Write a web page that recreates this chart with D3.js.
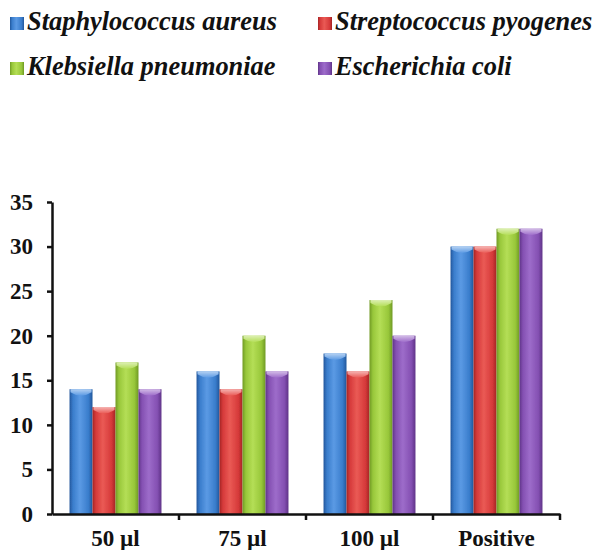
<!DOCTYPE html>
<html>
<head>
<meta charset="utf-8">
<script src="https://cdn.jsdelivr.net/npm/d3@7"></script>
<style>
  html, body { margin: 0; padding: 0; background: #fff; }
  svg { display: block; }
  svg text { font-family: "Liberation Serif", "Times New Roman", Times, "DejaVu Serif", serif; }
</style>
</head>
<body>
<svg id="chart" width="594" height="550"></svg>
<script>
// Zone of inhibition by extract volume, per organism
const categories = ["50 µl", "75 µl", "100 µl", "Positive"];
const seriesNames = ["Staphylococcus aureus", "Streptococcus pyogenes", "Klebsiella pneumoniae", "Escherichia coli"];
const staphValues = [14, 16, 18, 30];
const streptoValues = [12, 14, 16, 30];
const klebValues = [17, 20, 24, 32];
const ecoliValues = [14, 16, 20, 32];
const yTicks = [0, 5, 10, 15, 20, 25, 30, 35];

const seriesValues = [staphValues, streptoValues, klebValues, ecoliValues];
const palette = [
  { base: "#3a7dcc", light: "#5b9ae4", dark: "#22579c" },
  { base: "#d63a3a", light: "#ea5a55", dark: "#a52424" },
  { base: "#98c73a", light: "#b4de56", dark: "#6f9a24" },
  { base: "#8450b2", light: "#9d6cca", dark: "#5f3388" }
];
const FONT = "'Liberation Serif', 'Times New Roman', Times, 'DejaVu Serif', serif";

const svg = d3.select("#chart");
const margin = { left: 52, right: 34, top: 202, bottom: 36 };
const W = 594, H = 550;
const plotW = W - margin.left - margin.right;
const plotH = H - margin.top - margin.bottom;

const defs = svg.append("defs");
palette.forEach((c, i) => {
  const g = defs.append("linearGradient").attr("id", "bar" + i)
    .attr("x1", "0%").attr("x2", "100%").attr("y1", "0%").attr("y2", "0%");
  g.append("stop").attr("offset", "0%").attr("stop-color", c.dark);
  g.append("stop").attr("offset", "15%").attr("stop-color", c.base);
  g.append("stop").attr("offset", "45%").attr("stop-color", c.light);
  g.append("stop").attr("offset", "82%").attr("stop-color", c.base);
  g.append("stop").attr("offset", "100%").attr("stop-color", c.dark);
});
const capGrad = defs.append("linearGradient").attr("id", "cap")
  .attr("x1", "0%").attr("x2", "0%").attr("y1", "0%").attr("y2", "100%");
capGrad.append("stop").attr("offset", "0%").attr("stop-color", "#fff").attr("stop-opacity", 0.55);
capGrad.append("stop").attr("offset", "100%").attr("stop-color", "#fff").attr("stop-opacity", 0);

const blur = defs.append("filter").attr("id", "soft").attr("x", "-10%").attr("y", "-10%").attr("width", "120%").attr("height", "120%");
blur.append("feGaussianBlur").attr("stdDeviation", 0.6);

const g = svg.append("g").attr("transform", `translate(${margin.left},${margin.top})`);

const x0 = d3.scaleBand().domain(categories).range([0, plotW]).paddingInner(0.276).paddingOuter(0.138);
const x1 = d3.scaleBand().domain(d3.range(seriesNames.length)).range([0, x0.bandwidth()]);
const y = d3.scaleLinear().domain([0, 35]).range([plotH, 0]);

// Bars
const groups = g.selectAll("g.cat").data(categories).join("g")
  .attr("class", "cat")
  .attr("transform", d => `translate(${x0(d)},0)`);

groups.each(function (cat, ci) {
  const grp = d3.select(this);
  seriesValues.forEach((vals, si) => {
    const v = vals[ci];
    const bx = x1(si), bw = x1.bandwidth(), by = y(v), bh = plotH - y(v);
    const bar = grp.append("g").attr("filter", "url(#soft)");
    bar.append("rect").attr("x", bx).attr("y", by).attr("width", bw).attr("height", bh)
      .attr("fill", `url(#bar${si})`);
    const cap = `M${bx + 1},${by} L${bx + bw - 1},${by} L${bx + bw - 1},${by + 3} Q${bx + bw / 2},${by + 10} ${bx + 1},${by + 3} Z`;
    bar.append("path").attr("d", cap).attr("fill", palette[si].light).attr("opacity", 0.9);
    bar.append("path").attr("d", cap).attr("fill", "url(#cap)");
  });
});

// Y axis
const yAxis = g.append("g")
  .call(d3.axisLeft(y).tickValues(yTicks).tickSize(5).tickSizeOuter(0).tickPadding(14));
yAxis.select(".domain").attr("stroke", "#111").attr("stroke-width", 2.5);
yAxis.selectAll(".tick line").attr("stroke", "#111").attr("stroke-width", 2.5);
yAxis.selectAll(".tick text")
  .style("font-family", FONT)
  .attr("font-weight", "bold").attr("font-size", 23).attr("fill", "#111");

// X axis
const xAxis = g.append("g").attr("transform", `translate(0,${plotH})`)
  .call(d3.axisBottom(x0).tickSize(0).tickPadding(16));
xAxis.select(".domain").attr("stroke", "#111").attr("stroke-width", 2.5);
xAxis.selectAll(".tick text")
  .style("font-family", FONT)
  .attr("font-weight", "bold").attr("font-size", 23).attr("fill", "#111");

// Category divider ticks below the x axis
const step = x0.step();
g.append("g").selectAll("line").data(categories).join("line")
  .attr("x1", d => x0(d) + x0.bandwidth() + (step - x0.bandwidth()) / 2)
  .attr("x2", d => x0(d) + x0.bandwidth() + (step - x0.bandwidth()) / 2)
  .attr("y1", plotH).attr("y2", plotH + 6)
  .attr("stroke", "#111").attr("stroke-width", 2.5);

// Legend
const legendData = seriesNames.map((n, i) => ({ name: n, i }));
const legendPos = [[10, 30], [318, 30], [10, 75], [318, 75]];
const lg = svg.append("g").selectAll("g").data(legendData).join("g")
  .attr("transform", d => `translate(${legendPos[d.i][0]},${legendPos[d.i][1]})`);
lg.append("rect").attr("x", 0).attr("y", -13).attr("width", 14).attr("height", 13)
  .attr("fill", d => `url(#bar${d.i})`).attr("filter", "url(#soft)");
lg.append("text").attr("x", 17).attr("y", 0)
  .style("font-family", FONT)
  .attr("font-weight", "bold").attr("font-style", "italic").attr("font-size", 26.4)
  .attr("fill", "#111")
  .text(d => d.name);
</script>
</body>
</html>
